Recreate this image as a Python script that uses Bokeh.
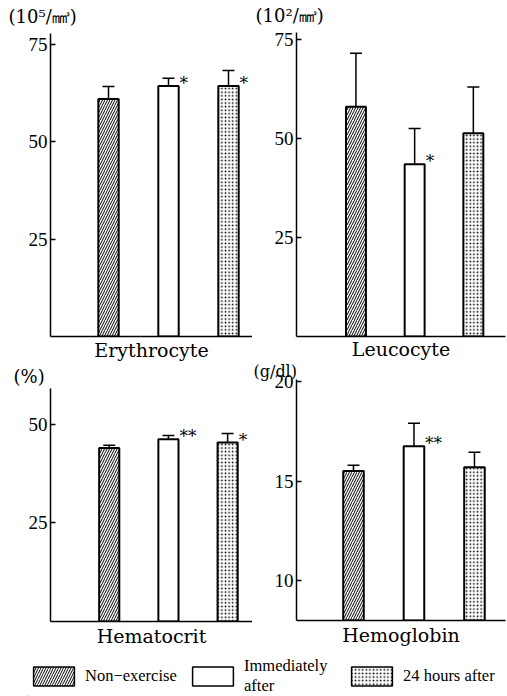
from bokeh.plotting import figure
from bokeh.models import (ColumnDataSource, Whisker, TeeHead, FixedTicker, Title,
                          Legend, LegendItem, Range1d)
from bokeh.layouts import column, row
from bokeh.embed import file_html
from bokeh.resources import INLINE
from bokeh.core.properties import value

# ---------------- data ----------------
groups = ["Non-exercise", "Immediately after", "24 hours after"]
legend_labels = ["Non\u2212exercise", "Immediately\nafter", "24 hours after"]
group_pos = [1, 2, 3]

ery_mean = [61.0, 64.3, 64.3]
ery_err = [3.2, 2.0, 4.0]
ery_sig = ["", "*", "*"]

leu_mean = [58.0, 43.5, 51.3]
leu_err = [13.5, 9.0, 11.7]
leu_sig = ["", "*", ""]

hct_mean = [44.0, 46.2, 45.4]
hct_err = [0.7, 1.0, 2.3]
hct_sig = ["", "**", "*"]

hgb_mean = [15.5, 16.75, 15.7]
hgb_err = [0.3, 1.15, 0.75]
hgb_sig = ["", "**", ""]

ery_ticks = [25, 50, 75]
leu_ticks = [25, 50, 75]
hct_ticks = [25, 50]
hgb_ticks = [10, 15, 20]

# ---------------- styles ----------------
SERIF = "Liberation Serif"
LABEL_FONT = "DejaVu Serif"
bar_styles = [
    dict(fill_color="white", hatch_pattern="right_diagonal_line", hatch_color="black",
         hatch_scale=5, hatch_weight=1),
    dict(fill_color="white"),
    dict(fill_color="white", hatch_pattern="dot", hatch_color="black",
         hatch_scale=3.6, hatch_weight=2),
]


def unit_title(text, offset, valign, standoff, size="18px"):
    return Title(text=text, align="left", offset=offset, standoff=standoff,
                 vertical_align=valign, text_font=LABEL_FONT, text_font_size=size,
                 text_font_style="normal", text_color="black")


def panel(mean, err, sig, ticks, xr, yr, name, w, h, borders, label_standoff=3):
    left, right, top, bottom = borders
    p = figure(width=w, height=h, output_backend="svg", toolbar_location=None,
               x_range=Range1d(*xr), y_range=Range1d(*yr),
               min_border_left=left, min_border_right=right,
               min_border_top=top, min_border_bottom=bottom,
               background_fill_color="white", border_fill_color="white")
    p.outline_line_color = None
    p.grid.visible = False
    y_start = yr[0]

    for i in range(len(group_pos)):
        src = ColumnDataSource(dict(x=[group_pos[i]], mean=[mean[i]],
                                    upper=[mean[i] + err[i]], base=[y_start],
                                    sig=[sig[i]]))
        p.vbar(x="x", top="mean", bottom="base", width=0.34, source=src,
               line_color="black", line_width=2, **bar_styles[i])
        p.add_layout(Whisker(source=src, base="x", lower="mean", upper="upper",
                             line_color="black", line_width=1.5, lower_head=None,
                             upper_head=TeeHead(size=12, line_color="black", line_width=1.5)))
        p.text(x="x", y="mean", text="sig", source=src, x_offset=11, y_offset=-3,
               text_align="left", text_baseline="middle",
               text_font=value(LABEL_FONT), text_font_size="17px", text_color="black")

    p.xaxis.ticker = FixedTicker(ticks=[])
    p.xaxis.axis_label = name
    p.xaxis.axis_label_text_font = LABEL_FONT
    p.xaxis.axis_label_text_font_style = "normal"
    p.xaxis.axis_label_text_font_size = "19px"
    p.xaxis.axis_label_text_color = "black"
    p.xaxis.axis_label_standoff = label_standoff
    p.xaxis.major_label_standoff = 0
    p.xaxis.major_tick_out = 0
    p.xaxis.major_tick_in = 0
    p.xaxis.minor_tick_out = 0
    p.xaxis.axis_line_width = 1.5

    p.yaxis.ticker = FixedTicker(ticks=ticks)
    p.yaxis.major_tick_in = 5
    p.yaxis.major_tick_out = 0
    p.yaxis.minor_tick_in = 0
    p.yaxis.minor_tick_out = 0
    p.yaxis.major_tick_line_width = 1.5
    p.yaxis.axis_line_width = 1.5
    p.yaxis.major_label_standoff = 3
    p.yaxis.major_label_text_font = SERIF
    p.yaxis.major_label_text_font_size = "19px"
    p.yaxis.major_label_text_color = "black"
    return p


# (bokeh's page template has no body margin: the layout starts at the top-left corner)
p1 = panel(ery_mean, ery_err, ery_sig, ery_ticks, (0.033, 3.40), (0, 77.8),
           "Erythrocyte", 252, 363, (50, 0, 33, 25), label_standoff=2)
p2 = panel(leu_mean, leu_err, leu_sig, leu_ticks, (-0.013, 3.548), (0, 76.75),
           "Leucocyte", 255, 362, (42, 2, 32, 23), label_standoff=1)
p3 = panel(hct_mean, hct_err, hct_sig, hct_ticks, (0.008, 3.42), (0, 59.1),
           "Hematocrit", 252, 287, (49, 0, 24, 29))
p4 = panel(hgb_mean, hgb_err, hgb_sig, hgb_ticks, (0.058, 3.513), (8, 20.1),
           "Hemoglobin", 255, 288, (44, 2, 17, 30))

# unit captions
p1.add_layout(unit_title("(10\u2075/\u33a3)", -42, "top", 10), "above")
p2.add_layout(unit_title("(10\u00b2/\u33a3)", -41, "top", 9), "above")
p3.add_layout(unit_title("(%)", -37, "middle", 2), "above")
p4.add_layout(unit_title("(g/dl)", -43, "middle", -4, "16px"), "above")

# ---------------- legend ----------------
# proxy renderers for the legend swatches sit outside the (empty) legend frame
lg = figure(width=507, height=46, output_backend="svg", toolbar_location=None,
            x_range=Range1d(10, 11), y_range=Range1d(10, 11),
            min_border_left=28, min_border_right=0, min_border_top=6, min_border_bottom=0)
lg.axis.visible = False
lg.grid.visible = False
lg.outline_line_color = None
items = []
for i in range(len(groups)):
    r = lg.vbar(x=[group_pos[i]], top=[0], bottom=[0], width=0.3, line_color="black",
                line_width=1.5, **bar_styles[i])
    items.append(LegendItem(label=legend_labels[i], renderers=[r]))
legend = Legend(items=items, orientation="horizontal", location="top_left",
                glyph_width=51, glyph_height=24, label_standoff=6, label_width=100,
                spacing=2, padding=0, margin=0, border_line_color=None,
                background_fill_alpha=0, label_text_font=SERIF,
                label_text_font_size="16.5px", label_text_color="black")
lg.add_layout(legend)

layout = column(row(column(p1, p3), column(p2, p4)), lg)
open("out.html", "w").write(file_html(layout, INLINE))
